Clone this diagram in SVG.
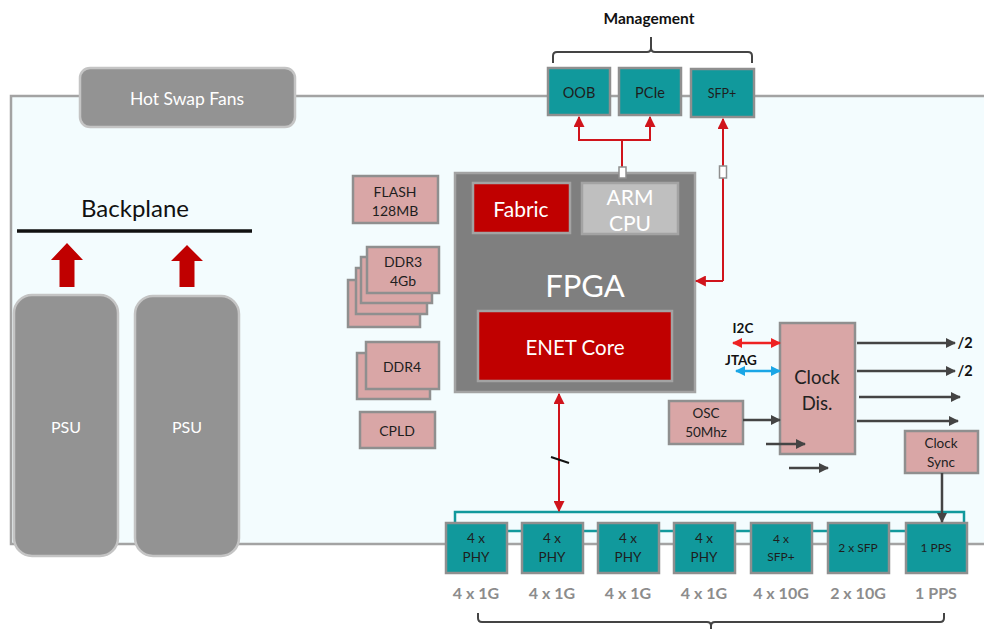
<svg xmlns="http://www.w3.org/2000/svg" width="984" height="629" viewBox="0 0 984 629">
<defs>
<style>
text{font-family:Lato,"Open Sans","Liberation Sans",sans-serif;text-anchor:middle;dominant-baseline:central}
.teal{fill:#11999c;stroke:#8f8f8f;stroke-width:2.5}
.pink{fill:#d9a6a6;stroke:#8f8f8f;stroke-width:2.5}
.gbox{fill:#939393;stroke:#c4c4c4;stroke-width:2.5}
.dk{fill:#1e1e1e}
.wt{fill:#ffffff}
.lbl{fill:#8c8c8c;font-size:16px;font-weight:bold}
.red{stroke:#d0141c;stroke-width:2;fill:none}
.dline{stroke:#444;stroke-width:2.5;fill:none}
</style>
<marker id="ar" viewBox="0 0 10 10" refX="9" refY="5" markerWidth="5.5" markerHeight="5.5" orient="auto-start-reverse" markerUnits="strokeWidth"><path d="M0,0L10,5L0,10z" fill="#d0141c"/></marker>
<marker id="ad" viewBox="0 0 10 10" refX="9" refY="5" markerWidth="4" markerHeight="4" orient="auto-start-reverse" markerUnits="strokeWidth"><path d="M0,0L10,5L0,10z" fill="#444"/></marker>
<marker id="ab" viewBox="0 0 10 10" refX="9" refY="5" markerWidth="4" markerHeight="4" orient="auto-start-reverse" markerUnits="strokeWidth"><path d="M0,0L10,5L0,10z" fill="#1aa6e6"/></marker>
<marker id="arr" viewBox="0 0 10 10" refX="9" refY="5" markerWidth="4" markerHeight="4" orient="auto-start-reverse" markerUnits="strokeWidth"><path d="M0,0L10,5L0,10z" fill="#ee2222"/></marker>
</defs>
<rect width="984" height="629" fill="#ffffff"/>
<!-- chassis panel -->
<path id="panel" d="M990,96 H11 V544 H990" fill="#f3fcfe" stroke="#a3a3a3" stroke-width="2.5"/>

<g id="fans"><rect class="gbox" x="80" y="68" width="215" height="59" rx="10"/><text class="wt" x="187" y="98" font-size="17.5">Hot Swap Fans</text></g>

<g id="backplane">
<text x="135" y="207" font-size="24" fill="#111">Backplane</text>
<line x1="17" y1="231" x2="252" y2="231" stroke="#111" stroke-width="3.5"/>
<path d="M67,243 L83,260 L74.5,260 L74.5,287 L59.5,287 L59.5,260 L51,260 Z" fill="#c00000"/>
<path d="M187,245 L203,261 L194.5,261 L194.5,287 L179.5,287 L179.5,261 L171,261 Z" fill="#c00000"/>
</g>

<g id="psu1"><rect class="gbox" x="14" y="295" width="104" height="261" rx="18"/><text class="wt" x="66" y="426" font-size="16">PSU</text></g>
<g id="psu2"><rect class="gbox" x="135" y="296" width="104" height="260" rx="18"/><text class="wt" x="187" y="426" font-size="16">PSU</text></g>

<g id="management">
<text x="649" y="18" font-size="15.5" font-weight="bold" fill="#111">Management</text>
<path d="M553,63 V56 Q553,52 557,52 H647 Q651,52 651,48 V37 M651,48 Q651,52 655,52 H748 Q752,52 752,56 V63" fill="none" stroke="#444" stroke-width="2"/>
</g>
<g id="oob"><rect class="teal" x="548" y="68" width="62" height="47"/><text class="dk" x="579" y="92" font-size="14.5">OOB</text></g>
<g id="pcie"><rect class="teal" x="619" y="68" width="62" height="47"/><text class="dk" x="650" y="92" font-size="14.5">PCIe</text></g>
<g id="sfpm"><rect class="teal" x="691" y="69" width="63" height="48"/><text class="dk" x="722" y="93" font-size="12.5">SFP+</text></g>

<g id="fpga">
<rect x="455" y="173" width="240" height="219" fill="#7f7f7f" stroke="#a3a3a3" stroke-width="2.5"/>
<rect x="473" y="183" width="97" height="50" fill="#c00000" stroke="#a3a3a3" stroke-width="2.5"/>
<text class="wt" x="521" y="208" font-size="21">Fabric</text>
<rect x="582" y="183" width="96" height="51" fill="#bfbfbf" stroke="#a3a3a3" stroke-width="2.5"/>
<text class="wt" x="630" y="196" font-size="21">ARM</text>
<text class="wt" x="630" y="222" font-size="21">CPU</text>
<text class="wt" x="585" y="285" font-size="31">FPGA</text>
<rect x="478" y="311" width="194" height="70" fill="#c00000" stroke="#a3a3a3" stroke-width="2.5"/>
<text class="wt" x="575" y="347" font-size="20.5">ENET Core</text>
</g>

<g id="flash"><rect class="pink" x="353" y="176" width="85" height="47"/><text class="dk" x="395" y="191" font-size="14">FLASH</text><text class="dk" x="395" y="210" font-size="14">128MB</text></g>
<g id="ddr3">
<rect class="pink" x="348" y="280" width="72" height="47"/>
<rect class="pink" x="356" y="268" width="71" height="46"/>
<rect class="pink" x="361" y="257" width="71" height="46"/>
<rect class="pink" x="367" y="247" width="72" height="46"/>
<text class="dk" x="403" y="261" font-size="14">DDR3</text><text class="dk" x="403" y="280" font-size="14">4Gb</text>
</g>
<g id="ddr4">
<rect class="pink" x="357" y="353" width="73" height="46"/>
<rect class="pink" x="366" y="342" width="73" height="47"/>
<text class="dk" x="402" y="366" font-size="14">DDR4</text>
</g>
<g id="cpld"><rect class="pink" x="360" y="412" width="75" height="36"/><text class="dk" x="397" y="430" font-size="14">CPLD</text></g>

<g id="clockdis"><rect class="pink" x="780" y="323" width="75" height="131"/><text fill="#222" x="817" y="377" font-size="18.5">Clock</text><text fill="#222" x="817" y="403" font-size="18.5">Dis.</text></g>
<g id="osc"><rect class="pink" x="669" y="401" width="74" height="43"/><text fill="#222" x="706" y="413" font-size="13.5">OSC</text><text fill="#222" x="706" y="432" font-size="13.5">50Mhz</text></g>
<g id="clocksync"><rect class="pink" x="905" y="431" width="73" height="42"/><text fill="#222" x="941" y="443" font-size="13.5">Clock</text><text fill="#222" x="941" y="462" font-size="13.5">Sync</text></g>

<g id="ports">
<rect x="455" y="512" width="509" height="19" fill="none" stroke="#11999c" stroke-width="2.5"/>
<g id="p1"><rect class="teal" x="446" y="523" width="61" height="50"/><text class="dk" x="476" y="538" font-size="13.5">4 x</text><text class="dk" x="476" y="557" font-size="13.5">PHY</text><text class="lbl" x="476" y="592">4 x 1G</text></g>
<g id="p2"><rect class="teal" x="522" y="523" width="61" height="50"/><text class="dk" x="552" y="538" font-size="13.5">4 x</text><text class="dk" x="552" y="557" font-size="13.5">PHY</text><text class="lbl" x="552" y="592">4 x 1G</text></g>
<g id="p3"><rect class="teal" x="598" y="523" width="61" height="50"/><text class="dk" x="628" y="538" font-size="13.5">4 x</text><text class="dk" x="628" y="557" font-size="13.5">PHY</text><text class="lbl" x="628" y="592">4 x 1G</text></g>
<g id="p4"><rect class="teal" x="674" y="523" width="61" height="50"/><text class="dk" x="704" y="538" font-size="13.5">4 x</text><text class="dk" x="704" y="557" font-size="13.5">PHY</text><text class="lbl" x="704" y="592">4 x 1G</text></g>
<g id="p5"><rect class="teal" x="751" y="523" width="61" height="50"/><text class="dk" x="781" y="538" font-size="12">4 x</text><text class="dk" x="781" y="556" font-size="12">SFP+</text><text class="lbl" x="781" y="592">4 x 10G</text></g>
<g id="p6"><rect class="teal" x="828" y="523" width="61" height="50"/><text class="dk" x="858" y="547" font-size="12">2 x SFP</text><text class="lbl" x="858" y="592">2 x 10G</text></g>
<g id="p7"><rect class="teal" x="906" y="523" width="61" height="50"/><text class="dk" x="936" y="547" font-size="12">1 PPS</text><text class="lbl" x="936" y="592">1 PPS</text></g>
<path d="M478,613 V618 Q478,622 482,622 H707 Q711,622 711,626 V629 M711,626 Q711,622 715,622 H940 Q944,622 944,618 V613" fill="none" stroke="#444" stroke-width="2"/>
</g>

<g id="connectors">
<path class="red" d="M622,167 V140 H579 V117" marker-end="url(#ar)"/>
<path class="red" d="M622,140 H650 V117" marker-end="url(#ar)"/>
<rect x="619" y="167" width="7" height="11" fill="#ffffff" stroke="#8f8f8f" stroke-width="1.5"/>
<path class="red" d="M723,281 V119" marker-end="url(#ar)"/>
<path class="red" d="M723,281 H696" marker-end="url(#ar)"/>
<rect x="719.5" y="166" width="7" height="12" fill="#ffffff" stroke="#8f8f8f" stroke-width="1.5"/>
<line class="red" x1="559" y1="394" x2="559" y2="511" marker-start="url(#ar)" marker-end="url(#ar)"/>
<line x1="551" y1="457" x2="569" y2="463" stroke="#111" stroke-width="2"/>
<line x1="733" y1="343" x2="780" y2="343" stroke="#ee2222" stroke-width="2.5" marker-start="url(#arr)" marker-end="url(#arr)"/>
<text x="743" y="328" font-size="13.5" font-weight="bold" fill="#111">I2C</text>
<line x1="736" y1="371" x2="780" y2="371" stroke="#1aa6e6" stroke-width="2.5" marker-start="url(#ab)" marker-end="url(#ab)"/>
<text x="741" y="360" font-size="13.5" font-weight="bold" fill="#111">JTAG</text>
<line class="dline" x1="743" y1="420" x2="780" y2="420" marker-end="url(#ad)"/>
<line class="dline" x1="766" y1="444" x2="805" y2="444" marker-end="url(#ad)"/>
<line class="dline" x1="789" y1="468" x2="828" y2="468" marker-end="url(#ad)"/>
<line class="dline" x1="857" y1="343" x2="955" y2="343" marker-end="url(#ad)"/>
<text x="965" y="342" font-size="14.5" font-weight="bold" fill="#111">/2</text>
<line class="dline" x1="857" y1="371" x2="955" y2="371" marker-end="url(#ad)"/>
<text x="965" y="370" font-size="14.5" font-weight="bold" fill="#111">/2</text>
<line class="dline" x1="859" y1="397" x2="960" y2="397" marker-end="url(#ad)"/>
<line class="dline" x1="857" y1="421" x2="958" y2="421" marker-end="url(#ad)"/>
<line class="dline" x1="942" y1="473" x2="942" y2="522" marker-end="url(#ad)"/>
</g>
</svg>
